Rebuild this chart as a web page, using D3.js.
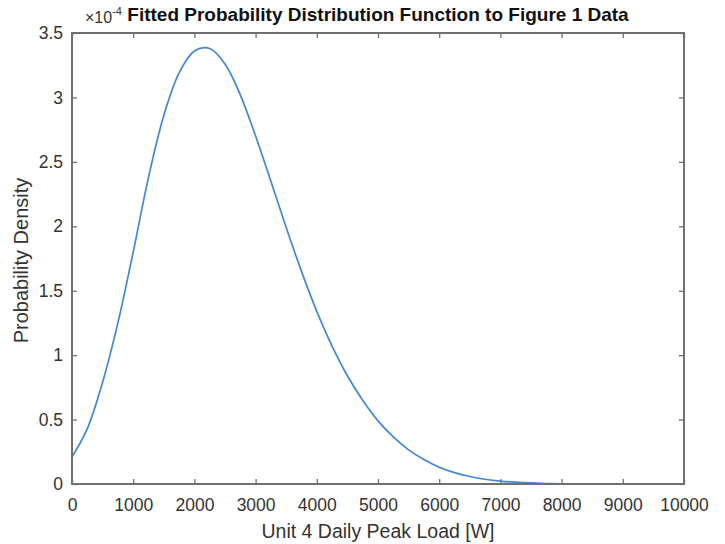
<!DOCTYPE html>
<html>
<head>
<meta charset="utf-8">
<script src="https://cdn.jsdelivr.net/npm/d3@7"></script>
<style>
  body { margin: 0; background: #fff; }
  text { font-family: "Liberation Sans", Arial, sans-serif; }
</style>
</head>
<body>
<div id="container"></div>
<script>
let w = 725;
let h = 544;

// fitted pdf, y in units of 1e-4
let loadW = [0, 250, 500, 750, 1000, 1250, 1500, 1750, 2000, 2250, 2500, 2750, 3000, 3250, 3500, 3750, 4000, 4250, 4500, 4750, 5000, 5250, 5500, 5750, 6000, 6250, 6500, 6750, 7000, 7250, 7500, 7750, 8000, 8500, 9000, 9500, 10000];
let density = [0.21, 0.43, 0.79, 1.25, 1.80, 2.38, 2.86, 3.19, 3.36, 3.38, 3.26, 3.02, 2.70, 2.35, 1.99, 1.65, 1.34, 1.07, 0.84, 0.65, 0.49, 0.365, 0.265, 0.19, 0.13, 0.088, 0.058, 0.037, 0.023, 0.014, 0.008, 0.004, 0.002, 0.0005, 0, 0, 0];
let xTicks = [0, 1000, 2000, 3000, 4000, 5000, 6000, 7000, 8000, 9000, 10000];
let yTicks = [0, 0.5, 1, 1.5, 2, 2.5, 3, 3.5];

let padL = 72, padR = 684, padT = 33, padB = 484;
let axisGray = "#707070";
let labelGray = "#333333";
let lineBlue = "#4089d2";

let viz = d3.select("#container")
  .append("svg")
    .attr("width", w)
    .attr("height", h)
    .style("background-color", "white")
;

let x = d3.scaleLinear().domain([0, 10000]).range([padL, padR]);
let y = d3.scaleLinear().domain([0, 3.5]).range([padB, padT]);

// curve
let pts = loadW.map((d, i) => [d, density[i]]);
viz.append("path")
  .datum(pts)
  .attr("d", d3.line().x(d => x(d[0])).y(d => y(d[1])).curve(d3.curveCatmullRom))
  .style("fill", "none")
  .style("stroke", lineBlue)
  .style("stroke-width", 1.7)
;

// axes, ticks inward on all four sides
let tickLen = 5;
let xBottom = viz.append("g")
  .attr("transform", "translate(0," + padB + ")")
  .call(d3.axisBottom(x).tickValues(xTicks).tickSize(-tickLen).tickFormat(d3.format("d")));
let xTop = viz.append("g")
  .attr("transform", "translate(0," + padT + ")")
  .call(d3.axisTop(x).tickValues(xTicks).tickSize(-tickLen).tickFormat(""));
let yLeft = viz.append("g")
  .attr("transform", "translate(" + padL + ",0)")
  .call(d3.axisLeft(y).tickValues(yTicks).tickSize(-tickLen).tickFormat(d => d));
let yRight = viz.append("g")
  .attr("transform", "translate(" + padR + ",0)")
  .call(d3.axisRight(y).tickValues(yTicks).tickSize(-tickLen).tickFormat(""));

[xBottom, xTop, yLeft, yRight].forEach(g => {
  g.select(".domain").remove();
  g.selectAll(".tick line").style("stroke", axisGray).style("stroke-width", 1.3);
  g.selectAll(".tick text")
    .style("font-size", "17.5px")
    .style("fill", labelGray)
    .style("font-family", "'Liberation Sans', Arial, sans-serif");
});
xBottom.selectAll(".tick text").attr("dy", "0.71em").attr("y", 15);
yLeft.selectAll(".tick text").attr("x", -9);

// box
viz.append("rect")
  .attr("x", padL)
  .attr("y", padT)
  .attr("width", padR - padL)
  .attr("height", padB - padT)
  .style("fill", "none")
  .style("stroke", axisGray)
  .style("stroke-width", 2)
;

// exponent label
let expo = viz.append("text")
  .attr("x", 85)
  .attr("y", 23)
  .style("font-size", "16px")
  .style("fill", labelGray)
;
expo.append("tspan").text("\u00d710");
expo.append("tspan").text("-4").attr("dy", -8).style("font-size", "11px");

// title
viz.append("text")
  .text("Fitted Probability Distribution Function to Figure 1 Data")
  .attr("x", (padL + padR) / 2)
  .attr("y", 21)
  .attr("text-anchor", "middle")
  .style("font-size", "19px")
  .style("font-weight", "bold")
  .style("fill", "#111")
;

// axis labels
viz.append("text")
  .text("Unit 4 Daily Peak Load [W]")
  .attr("x", (padL + padR) / 2)
  .attr("y", 538)
  .attr("text-anchor", "middle")
  .style("font-size", "19.5px")
  .style("fill", labelGray)
;
viz.append("text")
  .text("Probability Density")
  .attr("transform", "translate(28," + ((padT + padB) / 2 + 2) + ") rotate(-90)")
  .attr("text-anchor", "middle")
  .style("font-size", "20px")
  .style("fill", labelGray)
;
</script>
</body>
</html>
